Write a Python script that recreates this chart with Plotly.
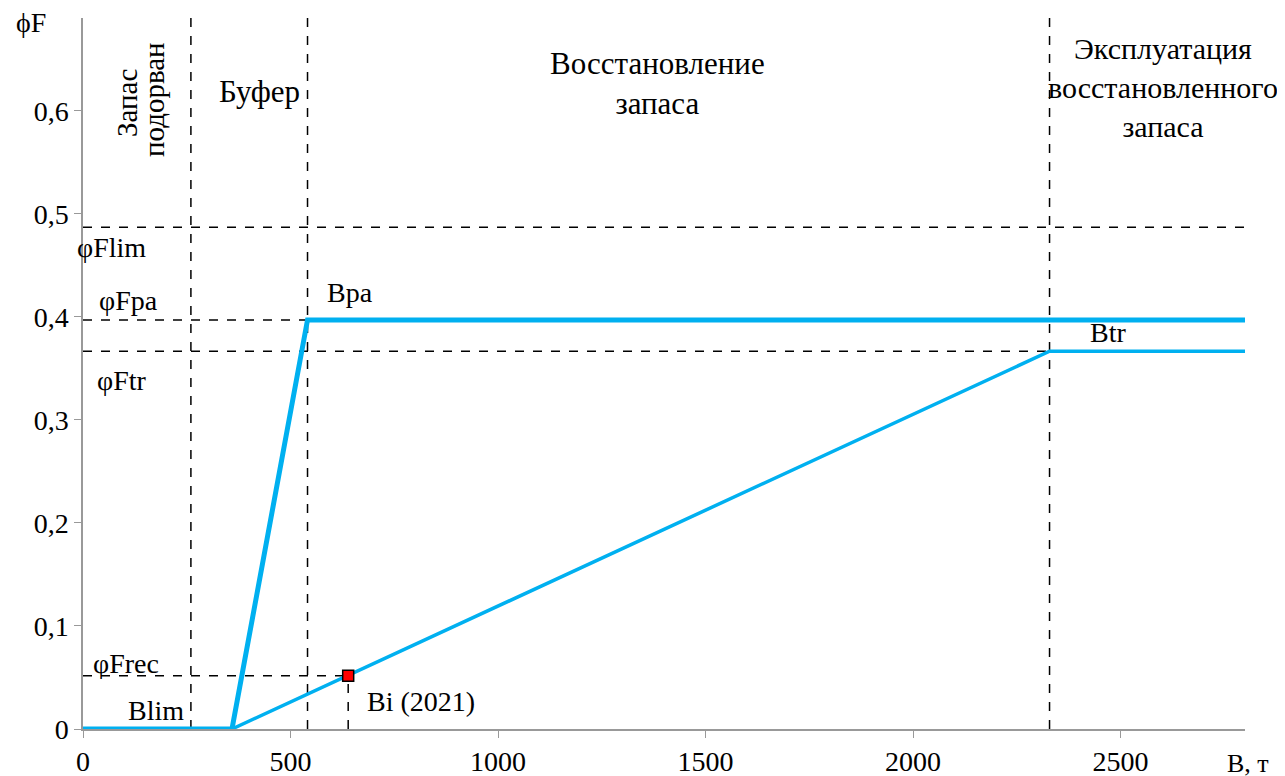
import plotly.graph_objects as go

blue = "#00B0F0"
serif = "Liberation Serif"

# reference points (B, t ; phiF)
b_lim = 260
b_kink = 359
b_pa = 541
b_tr = 2329
b_i = 639
b_max = 2800

f_lim = 0.487
f_pa = 0.397
f_tr = 0.3666
f_rec = 0.0517
f_top = 0.69

# control rules
rule_pa_x = [0, b_kink, b_pa, b_max]
rule_pa_y = [0, 0, f_pa, f_pa]
rule_tr_x = [b_kink, b_tr, b_max]
rule_tr_y = [0, f_tr, f_tr]

x_ticks = [0, 500, 1000, 1500, 2000, 2500]
y_ticks = [0, 0.1, 0.2, 0.3, 0.4, 0.5, 0.6]
y_labels = ["0", "0,1", "0,2", "0,3", "0,4", "0,5", "0,6"]

fig = go.Figure()

dash = dict(color="black", width=1.5, dash="dash")

# reference dashed lines
fig.add_trace(go.Scatter(x=[0, b_max], y=[f_lim, f_lim], mode="lines", line=dash, hoverinfo="skip"))
fig.add_trace(go.Scatter(x=[0, b_pa], y=[f_pa, f_pa], mode="lines", line=dash, hoverinfo="skip"))
fig.add_trace(go.Scatter(x=[0, b_tr], y=[f_tr, f_tr], mode="lines", line=dash, hoverinfo="skip"))
fig.add_trace(go.Scatter(x=[0, b_i], y=[f_rec, f_rec], mode="lines", line=dash, hoverinfo="skip"))
for xv in [b_lim, b_pa, b_tr]:
    fig.add_trace(go.Scatter(x=[xv, xv], y=[0, f_top], mode="lines", line=dash, hoverinfo="skip"))
fig.add_trace(go.Scatter(x=[b_i, b_i], y=[0, f_rec], mode="lines", line=dash, hoverinfo="skip"))

fig.add_trace(go.Scatter(x=rule_pa_x, y=rule_pa_y, mode="lines", line=dict(color=blue, width=5)))
fig.add_trace(go.Scatter(x=rule_tr_x, y=rule_tr_y, mode="lines", line=dict(color=blue, width=3.5)))
fig.add_trace(go.Scatter(x=[b_i], y=[f_rec], mode="markers",
                         marker=dict(symbol="square", size=11, color="red",
                                     line=dict(color="black", width=1.5))))

# page has an 8px body margin; plot area in window pixels
L, T, W, H = 83, 18, 1162, 711
FW, FH = 1277, 768

fig.update_layout(
    width=FW, height=FH,
    margin=dict(l=L - 8, r=FW + 8 - L - W, t=T - 8, b=FH + 8 - T - H),
    plot_bgcolor="white", paper_bgcolor="white",
    showlegend=False,
    font=dict(family=serif, size=28, color="black"),
    xaxis=dict(range=[0, b_max], tickvals=x_ticks, automargin=False,
               showgrid=False, zeroline=False, showline=True, linecolor="#999999", linewidth=1.5,
               ticks="outside", ticklen=7, tickcolor="#999999", tickfont=dict(family=serif, size=28)),
    yaxis=dict(range=[0, f_top], tickvals=y_ticks, ticktext=y_labels, automargin=False,
               showgrid=False, zeroline=False, showline=True, linecolor="#999999", linewidth=1.5,
               ticks="outside", ticklen=7, tickcolor="#999999", tickfont=dict(family=serif, size=28)),
)


def note(text, px, py, size=27, **kw):
    # px, py: centre of the label in window pixels
    fig.add_annotation(text=text, x=(px - L) / W, y=1 - (py - T) / H, xref="paper", yref="paper",
                       xanchor="center", yanchor="middle", showarrow=False,
                       font=dict(family=serif, size=size, color="black"), **kw)


note("ϕF", 31, 22, size=28)
note("B, т", 1248, 763, size=26)

note("Запас", 127, 103, size=29, textangle=-90)
note("подорван", 154, 100, size=29, textangle=-90)
note("Буфер", 260, 92, size=31)
note("Восстановление<br>запаса", 657, 84, size=31, align="center")
note("Эксплуатация<br>восстановленного<br>запаса", 1163, 87, size=30, align="center")

note("φFlim", 111, 248, size=28)
note("φFpa", 128, 300, size=28)
note("Bpa", 350, 292, size=28)
note("φFtr", 122, 380, size=28)
note("Btr", 1108, 333, size=28)
note("φFrec", 126, 663, size=28)
note("Blim", 156, 710, size=28)
note("Bi (2021)", 421, 701, size=28)

fig.write_html("out.html")
